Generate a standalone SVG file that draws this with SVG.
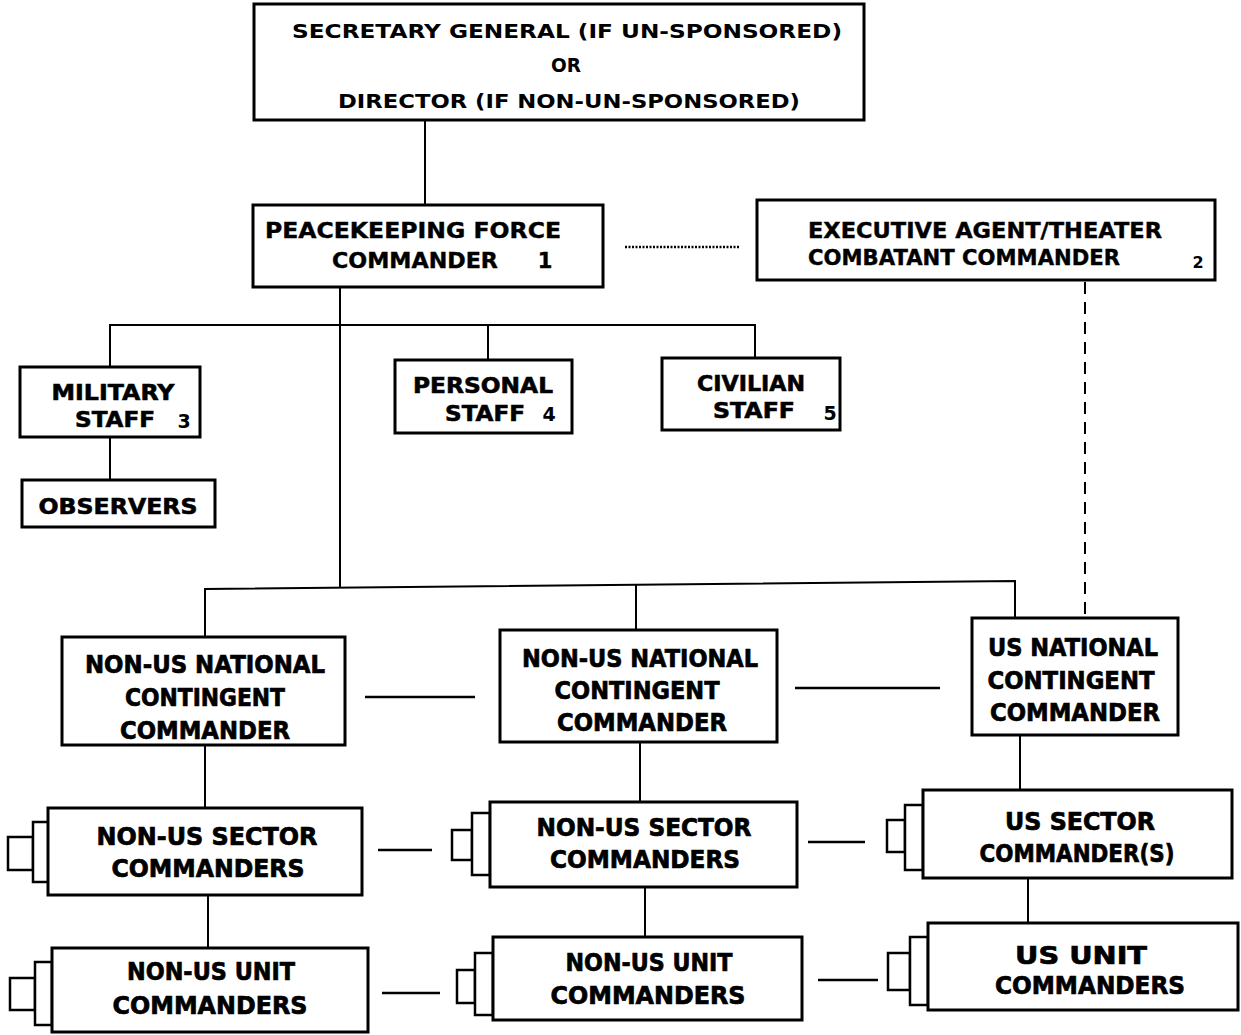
<svg xmlns="http://www.w3.org/2000/svg" width="1241" height="1035" viewBox="0 0 1241 1035">
<style>
.box{fill:#fff;stroke:#000;stroke-width:3}
.tab{fill:#fff;stroke:#000;stroke-width:2.5}
.ln{fill:none;stroke:#000;stroke-width:2}
.dash{fill:none;stroke:#000;stroke-width:2;stroke-dasharray:12 8}
.dot{fill:none;stroke:#000;stroke-width:2.5;stroke-dasharray:2 1.5}
.peer{fill:none;stroke:#000;stroke-width:2.5}
text{font-family:"DejaVu Sans","Liberation Sans",sans-serif;font-weight:bold;fill:#000;text-anchor:middle}
.t19{font-size:19px}
.t21{font-size:21px;stroke:#000;stroke-width:0.4}
.t22{font-size:22px;stroke:#000;stroke-width:0.6}
.t24{font-size:24px;stroke:#000;stroke-width:0.7}
.num{font-size:16px}
</style>
<rect width="1241" height="1035" fill="#fff"/>
<g id="connectors">
<line class="ln" x1="425" y1="120" x2="425" y2="205"/>
<line class="ln" x1="340" y1="287" x2="340" y2="588"/>
<polyline class="ln" points="110,367 110,325 755,325 755,358"/>
<line class="ln" x1="488" y1="325" x2="488" y2="360"/>
<line class="ln" x1="110" y1="437" x2="110" y2="480"/>
<polyline class="ln" points="205,637 205,589 1015,581 1015,618"/>
<line class="ln" x1="636" y1="585" x2="636" y2="630"/>
<line class="dot" x1="625" y1="247" x2="740" y2="247"/>
<line class="dash" x1="1085" y1="282" x2="1085" y2="618"/>
<line class="peer" x1="365" y1="697" x2="475" y2="697"/>
<line class="peer" x1="795" y1="688" x2="940" y2="688"/>
<line class="ln" x1="205" y1="745" x2="205" y2="808"/>
<line class="ln" x1="640" y1="742" x2="640" y2="802"/>
<line class="ln" x1="1020" y1="735" x2="1020" y2="790"/>
<line class="ln" x1="208" y1="895" x2="208" y2="948"/>
<line class="ln" x1="645" y1="887" x2="645" y2="937"/>
<line class="ln" x1="1028" y1="878" x2="1028" y2="923"/>
<line class="peer" x1="378" y1="850" x2="432" y2="850"/>
<line class="peer" x1="808" y1="842" x2="865" y2="842"/>
<line class="peer" x1="382" y1="993" x2="440" y2="993"/>
<line class="peer" x1="818" y1="980" x2="878" y2="980"/>
</g>
<g id="secretary-general">
<rect class="box" x="254" y="4" width="610" height="116"/>
<text class="t19" x="567" y="38" textLength="550" lengthAdjust="spacingAndGlyphs">SECRETARY GENERAL (IF UN-SPONSORED)</text>
<text class="t19" x="566" y="72" textLength="30" lengthAdjust="spacingAndGlyphs">OR</text>
<text class="t19" x="569" y="108" textLength="462" lengthAdjust="spacingAndGlyphs">DIRECTOR (IF NON-UN-SPONSORED)</text>
</g>
<g id="pkf-commander">
<rect class="box" x="253" y="205" width="350" height="82"/>
<text class="t21" x="413" y="238" textLength="296" lengthAdjust="spacingAndGlyphs">PEACEKEEPING FORCE</text>
<text class="t21" x="415" y="268" textLength="166" lengthAdjust="spacingAndGlyphs">COMMANDER</text>
<text class="t21" x="545" y="268">1</text>
</g>
<g id="executive-agent">
<rect class="box" x="757" y="200" width="458" height="80"/>
<text class="t21" x="985" y="238" textLength="354" lengthAdjust="spacingAndGlyphs">EXECUTIVE AGENT/THEATER</text>
<text class="t21" x="964" y="265" textLength="312" lengthAdjust="spacingAndGlyphs">COMBATANT COMMANDER</text>
<text class="num" x="1198" y="268">2</text>
</g>
<g id="military-staff">
<rect class="box" x="20" y="367" width="180" height="70"/>
<text class="t22" x="113" y="400" textLength="123" lengthAdjust="spacingAndGlyphs">MILITARY</text>
<text class="t22" x="115" y="427" textLength="80" lengthAdjust="spacingAndGlyphs">STAFF</text>
<text class="t19" x="184" y="428">3</text>
</g>
<g id="observers">
<rect class="box" x="22" y="480" width="193" height="47"/>
<text class="t22" x="118" y="514" textLength="159" lengthAdjust="spacingAndGlyphs">OBSERVERS</text>
</g>
<g id="personal-staff">
<rect class="box" x="395" y="360" width="177" height="73"/>
<text class="t22" x="483" y="393" textLength="140" lengthAdjust="spacingAndGlyphs">PERSONAL</text>
<text class="t22" x="485" y="421" textLength="80" lengthAdjust="spacingAndGlyphs">STAFF</text>
<text class="t19" x="549" y="421">4</text>
</g>
<g id="civilian-staff">
<rect class="box" x="662" y="358" width="178" height="72"/>
<text class="t22" x="751" y="391" textLength="108" lengthAdjust="spacingAndGlyphs">CIVILIAN</text>
<text class="t22" x="754" y="418" textLength="82" lengthAdjust="spacingAndGlyphs">STAFF</text>
<text class="t19" x="830" y="420">5</text>
</g>
<g id="non-us-contingent-1">
<rect class="box" x="62" y="637" width="283" height="108"/>
<text class="t24" x="205" y="673" textLength="240" lengthAdjust="spacingAndGlyphs">NON-US NATIONAL</text>
<text class="t24" x="205" y="706" textLength="160" lengthAdjust="spacingAndGlyphs">CONTINGENT</text>
<text class="t24" x="205" y="739" textLength="170" lengthAdjust="spacingAndGlyphs">COMMANDER</text>
</g>
<g id="non-us-contingent-2">
<rect class="box" x="500" y="630" width="277" height="112"/>
<text class="t24" x="640" y="667" textLength="236" lengthAdjust="spacingAndGlyphs">NON-US NATIONAL</text>
<text class="t24" x="637" y="699" textLength="165" lengthAdjust="spacingAndGlyphs">CONTINGENT</text>
<text class="t24" x="642" y="731" textLength="170" lengthAdjust="spacingAndGlyphs">COMMANDER</text>
</g>
<g id="us-contingent">
<rect class="box" x="972" y="618" width="206" height="117"/>
<text class="t24" x="1073" y="656" textLength="170" lengthAdjust="spacingAndGlyphs">US NATIONAL</text>
<text class="t24" x="1071" y="689" textLength="167" lengthAdjust="spacingAndGlyphs">CONTINGENT</text>
<text class="t24" x="1075" y="721" textLength="170" lengthAdjust="spacingAndGlyphs">COMMANDER</text>
</g>
<g id="non-us-sector-1">
<rect class="tab" x="8" y="837" width="25" height="33"/>
<rect class="tab" x="33" y="822" width="17" height="60"/>
<rect class="box" x="48" y="808" width="314" height="87"/>
<text class="t24" x="207" y="845" textLength="221" lengthAdjust="spacingAndGlyphs">NON-US SECTOR</text>
<text class="t24" x="208" y="877" textLength="193" lengthAdjust="spacingAndGlyphs">COMMANDERS</text>
</g>
<g id="non-us-sector-2">
<rect class="tab" x="452" y="830" width="20" height="30"/>
<rect class="tab" x="472" y="813" width="18" height="62"/>
<rect class="box" x="490" y="802" width="307" height="85"/>
<text class="t24" x="644" y="836" textLength="215" lengthAdjust="spacingAndGlyphs">NON-US SECTOR</text>
<text class="t24" x="645" y="868" textLength="190" lengthAdjust="spacingAndGlyphs">COMMANDERS</text>
</g>
<g id="us-sector">
<rect class="tab" x="887" y="820" width="18" height="32"/>
<rect class="tab" x="905" y="805" width="18" height="65"/>
<rect class="box" x="923" y="790" width="309" height="88"/>
<text class="t24" x="1080" y="830" textLength="150" lengthAdjust="spacingAndGlyphs">US SECTOR</text>
<text class="t24" x="1077" y="862" textLength="195" lengthAdjust="spacingAndGlyphs">COMMANDER(S)</text>
</g>
<g id="non-us-unit-1">
<rect class="tab" x="10" y="978" width="25" height="32"/>
<rect class="tab" x="35" y="962" width="17" height="63"/>
<rect class="box" x="52" y="948" width="316" height="84"/>
<text class="t24" x="211" y="980" textLength="168" lengthAdjust="spacingAndGlyphs">NON-US UNIT</text>
<text class="t24" x="210" y="1014" textLength="195" lengthAdjust="spacingAndGlyphs">COMMANDERS</text>
</g>
<g id="non-us-unit-2">
<rect class="tab" x="457" y="970" width="18" height="33"/>
<rect class="tab" x="475" y="953" width="18" height="62"/>
<rect class="box" x="493" y="937" width="309" height="83"/>
<text class="t24" x="649" y="971" textLength="167" lengthAdjust="spacingAndGlyphs">NON-US UNIT</text>
<text class="t24" x="648" y="1004" textLength="195" lengthAdjust="spacingAndGlyphs">COMMANDERS</text>
</g>
<g id="us-unit">
<rect class="tab" x="888" y="953" width="22" height="37"/>
<rect class="tab" x="910" y="937" width="18" height="68"/>
<rect class="box" x="928" y="923" width="310" height="87"/>
<text class="t24" x="1081" y="964" textLength="132" lengthAdjust="spacingAndGlyphs">US UNIT</text>
<text class="t24" x="1090" y="994" textLength="190" lengthAdjust="spacingAndGlyphs">COMMANDERS</text>
</g>
</svg>
